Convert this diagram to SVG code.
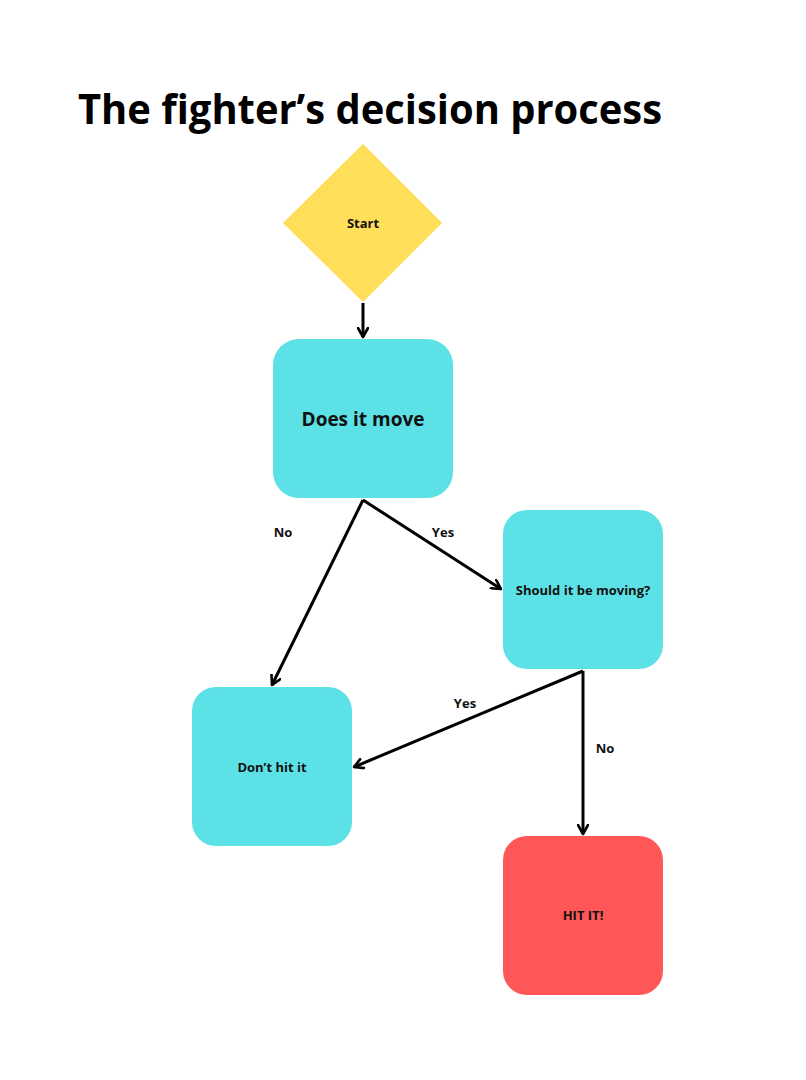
<svg xmlns="http://www.w3.org/2000/svg" width="806" height="1080" viewBox="0 0 806 1080">
<defs>
<marker id="arr" viewBox="0 0 12 12" refX="10" refY="6" markerWidth="12" markerHeight="12" markerUnits="userSpaceOnUse" orient="auto">
<path d="M1,1 L10,6 L1,11" fill="none" stroke="#000" stroke-width="2.6" stroke-linecap="round" stroke-linejoin="round"/>
</marker>
<style>
.t{font-family:"Open Sans","Liberation Sans",sans-serif;font-weight:bold;fill:#111;text-anchor:middle}
.s{font-size:13px}
.e{font-family:"Open Sans","Liberation Sans",sans-serif;font-weight:bold;font-size:13px;fill:#111;text-anchor:middle}
.c{fill:none;stroke:#000;stroke-width:3;marker-end:url(#arr)}
.cy{fill:#5CE1E6}
</style>
</defs>
<rect width="806" height="1080" fill="#fff"/>
<text x="78" y="124" font-family="'Open Sans','Liberation Sans',sans-serif" font-weight="bold" font-size="42" fill="#000" textLength="584" lengthAdjust="spacingAndGlyphs">The fighter’s decision process</text>
<g id="start"><polygon points="363,144 442,223 363,302 283,223" fill="#FFDE59"/><text class="t s" x="363" y="228">Start</text></g>
<g id="move"><rect class="cy" x="273" y="339" width="180" height="159" rx="26"/><text class="t" x="363" y="426" font-size="19">Does it move</text></g>
<g id="should"><rect class="cy" x="503" y="510" width="160" height="159" rx="24"/><text class="t s" x="583" y="595">Should it be moving?</text></g>
<g id="dont"><rect class="cy" x="192" y="687" width="160" height="159" rx="24"/><text class="t s" x="272" y="772">Don’t hit it</text></g>
<g id="hit"><rect x="503" y="836" width="160" height="159" rx="24" fill="#FF5757"/><text class="t s" x="583" y="920">HIT IT!</text></g>
<g id="connectors">
<line class="c" x1="363" y1="303" x2="363" y2="337"/>
<line class="c" x1="363" y1="500" x2="272" y2="685"/>
<line class="c" x1="363" y1="500" x2="501" y2="589"/>
<line class="c" x1="583" y1="671" x2="354" y2="767"/>
<line class="c" x1="583" y1="671" x2="583" y2="834"/>
<text class="e" x="283" y="537">No</text>
<text class="e" x="443" y="537">Yes</text>
<text class="e" x="465" y="708">Yes</text>
<text class="e" x="605" y="753">No</text>
</g>
</svg>
